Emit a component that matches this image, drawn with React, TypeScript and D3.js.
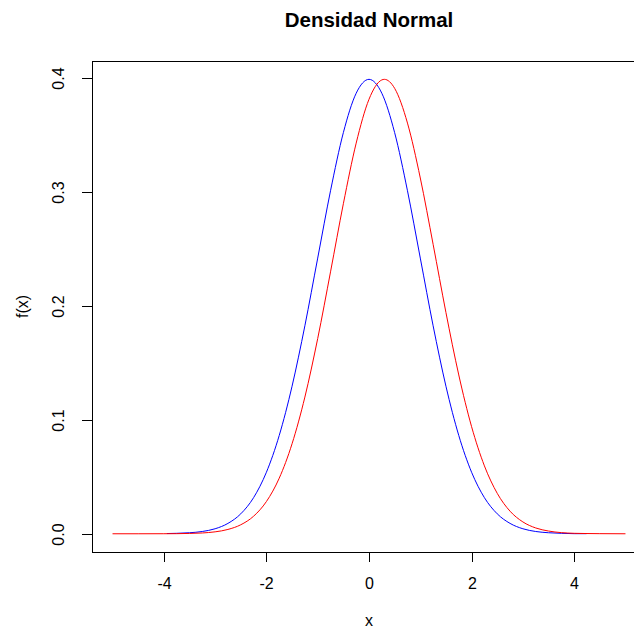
import * as d3 from 'd3';

// values
const blueX = [-3.94, -3.75, -3.5, -3.25, -3, -2.75, -2.5, -2.25, -2, -1.75, -1.5, -1.25, -1, -0.75, -0.5, -0.25, 0,
  0.25, 0.5, 0.75, 1, 1.25, 1.5, 1.75, 2, 2.25, 2.5, 2.75, 3, 3.25, 3.5, 3.75, 4, 4.24];
const blueY = [0.0002, 0.0004, 0.0009, 0.002, 0.0044, 0.0091, 0.0175, 0.0317, 0.054, 0.0863, 0.1295, 0.1826, 0.242, 0.3011, 0.3521, 0.3867, 0.3989,
  0.3867, 0.3521, 0.3011, 0.242, 0.1826, 0.1295, 0.0863, 0.054, 0.0317, 0.0175, 0.0091, 0.0044, 0.002, 0.0009, 0.0004, 0.0001, 0.0001];

const redX = [-5, -4.5, -4, -3.75, -3.5, -3.25, -3, -2.75, -2.5, -2.25, -2, -1.75, -1.5, -1.25, -1, -0.75, -0.5, -0.25, 0, 0.25, 0.3,
  0.5, 0.75, 1, 1.25, 1.5, 1.75, 2, 2.25, 2.5, 2.75, 3, 3.25, 3.5, 3.75, 4, 4.25, 4.5, 5];
const redY = [0, 0, 0.00004, 0.0001, 0.0003, 0.0007, 0.0017, 0.0038, 0.0079, 0.0154, 0.0283, 0.0488, 0.079, 0.12, 0.1714, 0.2299, 0.2897, 0.3429, 0.3814, 0.3984, 0.3989,
  0.391, 0.3605, 0.3123, 0.2541, 0.1942, 0.1394, 0.094, 0.0596, 0.0355, 0.0198, 0.0104, 0.0051, 0.0024, 0.001, 0.0004, 0.0002, 0.0001, 0];

const xTicks = [-4, -2, 0, 2, 4];
const yTicks = [0, 0.1, 0.2, 0.3, 0.4];
const yTickLabels = ['0.0', '0.1', '0.2', '0.3', '0.4'];

const title = 'Densidad Normal';
const xLabel = 'x';
const yLabel = 'f(x)';

export default function App() {
  const width = 634;
  const height = 630;
  const plot = { left: 92, right: 646, top: 61, bottom: 552 };
  const font = '"Liberation Sans", Arial, sans-serif';

  const x = d3.scaleLinear().domain([-5.4, 5.4]).range([plot.left, plot.right]);
  const y = d3.scaleLinear().domain([-0.016, 0.415]).range([plot.bottom, plot.top]);

  const line = d3
    .line<[number, number]>()
    .x((d) => x(d[0]))
    .y((d) => y(d[1]))
    .curve(d3.curveMonotoneX);

  const blue = blueX.map((v, i) => [v, blueY[i]] as [number, number]);
  const red = redX.map((v, i) => [v, redY[i]] as [number, number]);

  return (
    <>
      <style>{`body{margin:0}`}</style>
      <svg width={width} height={height} style={{ display: 'block', background: '#fff' }} fontFamily={font}>
        <text x={369} y={27} textAnchor="middle" fontSize={20.5} fontWeight="bold" fill="#000">
          {title}
        </text>

        <path d={line(blue) ?? ''} fill="none" stroke="#0000ff" strokeWidth={1} />
        <path d={line(red) ?? ''} fill="none" stroke="#ff0000" strokeWidth={1} />

        <rect
          x={plot.left + 0.5}
          y={plot.top + 0.5}
          width={plot.right - plot.left}
          height={plot.bottom - plot.top}
          fill="none"
          stroke="#000"
        />

        {xTicks.map((t) => (
          <g key={t} transform={`translate(${Math.round(x(t)) + 0.5},0)`}>
            <line y1={plot.bottom} y2={plot.bottom + 10} stroke="#000" />
            <text y={589} textAnchor="middle" fontSize={16} fill="#000">
              {t}
            </text>
          </g>
        ))}

        {yTicks.map((t, i) => (
          <g key={t} transform={`translate(0,${Math.round(y(t)) + 0.5})`}>
            <line x1={plot.left} x2={plot.left - 10} stroke="#000" />
            <text transform="translate(64,0) rotate(-90)" textAnchor="middle" fontSize={16} fill="#000">
              {yTickLabels[i]}
            </text>
          </g>
        ))}

        <text x={369} y={626} textAnchor="middle" fontSize={16} fill="#000">
          {xLabel}
        </text>
        <text
          transform={`translate(28,${(plot.top + plot.bottom) / 2}) rotate(-90)`}
          textAnchor="middle"
          fontSize={16}
          fill="#000"
        >
          {yLabel}
        </text>
      </svg>
    </>
  );
}
